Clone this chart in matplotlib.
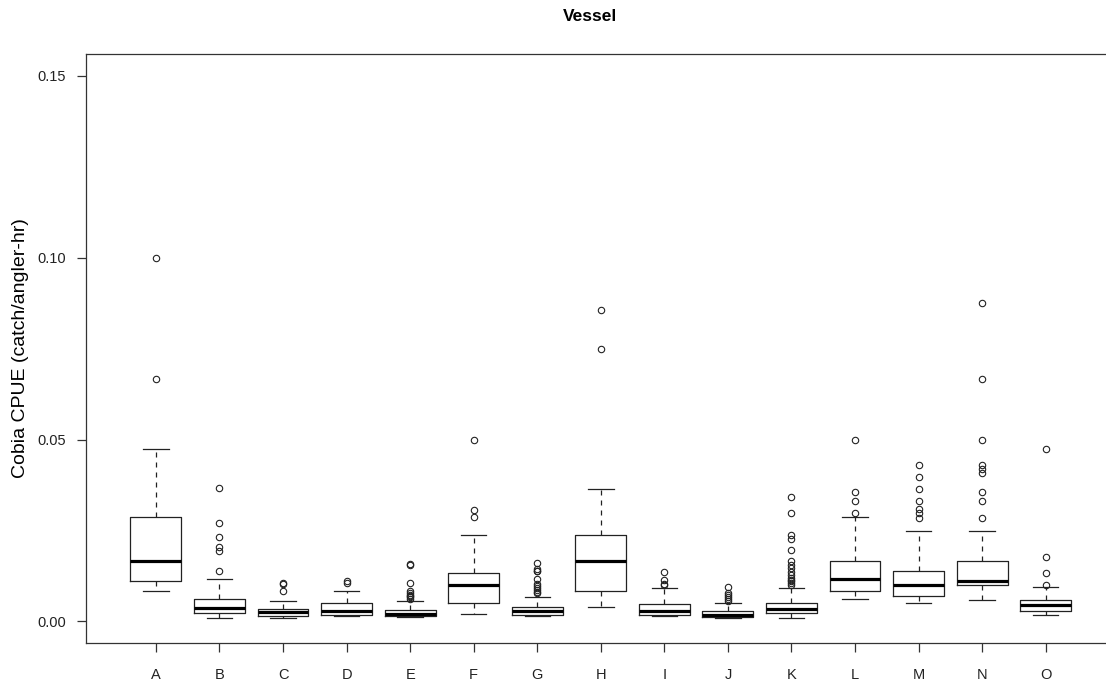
import matplotlib
matplotlib.use("Agg")
import matplotlib.pyplot as plt

plt.rcParams['font.family'] = ['Liberation Sans', 'DejaVu Sans']

# vessel labels
vessels = ['A', 'B', 'C', 'D', 'E', 'F', 'G', 'H', 'I', 'J', 'K', 'L', 'M', 'N', 'O']

# box statistics (catch / angler-hr)
whislo = [0.0083, 0.0009, 0.0009, 0.0015, 0.0011, 0.0020, 0.0015, 0.0041,
          0.0015, 0.0009, 0.0009, 0.0061, 0.0050, 0.0058, 0.0019]
q1 = [0.0110, 0.0022, 0.0014, 0.0019, 0.0014, 0.0052, 0.0019, 0.0083,
      0.0017, 0.0011, 0.0023, 0.0083, 0.0069, 0.0099, 0.0030]
med = [0.0165, 0.0037, 0.0025, 0.0029, 0.0020, 0.0100, 0.0030, 0.0165,
       0.0029, 0.0018, 0.0033, 0.0116, 0.0100, 0.0110, 0.0044]
q3 = [0.0286, 0.0061, 0.0034, 0.0050, 0.0032, 0.0133, 0.0039, 0.0237,
      0.0048, 0.0029, 0.0050, 0.0165, 0.0140, 0.0165, 0.0059]
whishi = [0.0474, 0.0116, 0.0056, 0.0085, 0.0056, 0.0239, 0.0067, 0.0363,
          0.0091, 0.0050, 0.0091, 0.0286, 0.0250, 0.0250, 0.0094]

# outliers per vessel
fliers_A = [0.0998, 0.0667]
fliers_B = [0.0368, 0.0272, 0.0231, 0.0204, 0.0193, 0.0140]
fliers_C = [0.0105, 0.0102, 0.0085]
fliers_D = [0.0110, 0.0106]
fliers_E = [0.0159, 0.0156, 0.0107, 0.0083, 0.0078, 0.0074, 0.0070, 0.0066, 0.0062]
fliers_F = [0.0500, 0.0307, 0.0286]
fliers_G = [0.0161, 0.0143, 0.0140, 0.0138, 0.0117, 0.0104, 0.0098, 0.0092,
            0.0086, 0.0081, 0.0077]
fliers_H = [0.0856, 0.0749]
fliers_I = [0.0135, 0.0113, 0.0104, 0.0099]
fliers_J = [0.0094, 0.0077, 0.0072, 0.0066, 0.0061, 0.0057]
fliers_K = [0.0343, 0.0299, 0.0239, 0.0228, 0.0197, 0.0165, 0.0154, 0.0146,
            0.0137, 0.0128, 0.0119, 0.0115, 0.0110, 0.0106, 0.0099]
fliers_L = [0.0500, 0.0357, 0.0332, 0.0299]
fliers_M = [0.0429, 0.0398, 0.0363, 0.0332, 0.0310, 0.0299, 0.0285]
fliers_N = [0.0875, 0.0667, 0.0500, 0.0429, 0.0418, 0.0407, 0.0357, 0.0332, 0.0285]
fliers_O = [0.0475, 0.0176, 0.0132, 0.0101]
fliers = [fliers_A, fliers_B, fliers_C, fliers_D, fliers_E, fliers_F, fliers_G,
          fliers_H, fliers_I, fliers_J, fliers_K, fliers_L, fliers_M, fliers_N,
          fliers_O]

stats = []
for i, name in enumerate(vessels):
    stats.append(dict(label=name, whislo=whislo[i], q1=q1[i], med=med[i],
                      q3=q3[i], whishi=whishi[i], fliers=fliers[i]))

fig = plt.figure(figsize=(11.06, 6.88), dpi=100)
W, H = 1106.0, 688.0
left, right, top, bottom = 86, 1115.6, 54, 643.3
ax = fig.add_axes([left / W, (H - bottom) / H, (right - left) / W, (bottom - top) / H])

lc = '#222222'
ax.bxp(stats, positions=range(1, 16), widths=0.8, capwidths=0.4,
       boxprops=dict(color=lc, linewidth=0.9),
       medianprops=dict(color='black', linewidth=2.3, solid_capstyle='butt'),
       whiskerprops=dict(color=lc, linewidth=0.9, linestyle=(0, (4, 4))),
       capprops=dict(color=lc, linewidth=0.9),
       flierprops=dict(marker='o', markersize=4.6, markerfacecolor='none',
                       markeredgecolor=lc, markeredgewidth=0.8))

ax.set_xlim(-0.1, 16.1)
ax.set_ylim(-0.006, 0.156)
ax.set_xticks(range(1, 16))
ax.set_xticklabels(vessels)
ax.set_yticks([0.0, 0.05, 0.10, 0.15])
ax.set_yticklabels(['0.00', '0.05', '0.10', '0.15'])

for s in ax.spines.values():
    s.set_color('#333333')
    s.set_linewidth(0.9)

ax.tick_params(axis='both', direction='out', length=6.5, width=0.9,
               color='#333333', labelsize=10.5, labelcolor='#222222')
ax.tick_params(axis='x', pad=11)
ax.tick_params(axis='y', pad=8)

fig.text(590 / W, 1 - 16.5 / H, 'Vessel', ha='center', va='center',
         fontsize=12.5, fontweight='bold')
fig.text(21 / W, 1 - 348.5 / H, 'Cobia CPUE (catch/angler-hr)', ha='center',
         va='center', rotation=90, fontsize=14)

fig.savefig('out.png', dpi=100)
